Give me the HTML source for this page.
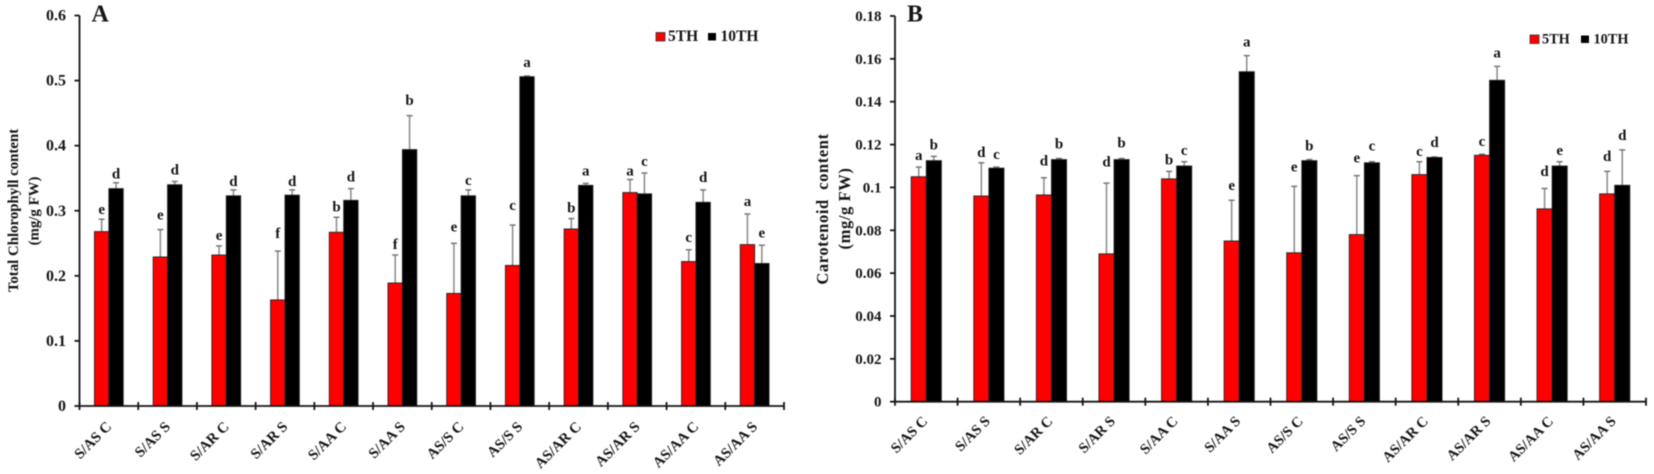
<!DOCTYPE html>
<html lang="en">
<head>
<meta charset="utf-8">
<title>Total chlorophyll and carotenoid content</title>
<style>
  html, body { margin: 0; padding: 0; background: #fff; }
  body { width: 1654px; height: 474px; overflow: hidden; }
  svg { display: block; filter: blur(0.5px); font-family: "Liberation Serif", serif; font-weight: bold; fill: #151515; }
  text { white-space: pre; }
</style>
</head>
<body>
<svg id="figure" xmlns="http://www.w3.org/2000/svg" width="1654" height="474" viewBox="0 0 1654 474"></svg>
<script>
const categories = ["S/AS C", "S/AS S", "S/AR C", "S/AR S", "S/AA C", "S/AA S", "AS/S C", "AS/S S", "AS/AR C", "AS/AR S", "AS/AA C", "AS/AA S"];

const chlorophyllTicks = [0, 0.1, 0.2, 0.3, 0.4, 0.5, 0.6];
const chlorophyllTickLabels = ["0", "0.1", "0.2", "0.3", "0.4", "0.5", "0.6"];
const chlorophyll5th = [0.268, 0.229, 0.232, 0.163, 0.267, 0.189, 0.173, 0.216, 0.272, 0.328, 0.222, 0.248];
const chlorophyll10th = [0.334, 0.340, 0.323, 0.324, 0.316, 0.394, 0.323, 0.506, 0.339, 0.326, 0.313, 0.219];
const chlorophyll5thErrorTop = [0.287, 0.271, 0.246, 0.238, 0.290, 0.232, 0.250, 0.278, 0.288, 0.348, 0.240, 0.295];
const chlorophyll10thErrorTop = [0.343, 0.345, 0.332, 0.332, 0.334, 0.446, 0.332, 0.507, 0.342, 0.358, 0.332, 0.247];
const chlorophyll5thLetters = ["e", "e", "e", "f", "b", "f", "e", "c", "b", "a", "c", "a"];
const chlorophyll10thLetters = ["d", "d", "d", "d", "d", "b", "c", "a", "a", "c", "d", "e"];
const chlorophyll5thLetterClearance = [-0.0015, 0.006, 0, 0.011, 0, 0, 0.009, 0.014, 0, -0.003, 0.003, 0.003];
const chlorophyll10thLetterClearance = [-0.003, 0.0015, -0.003, -0.003, 0.0015, 0.0075, -0.0015, 0.0045, 0.003, 0.0015, 0.003, 0.003];

const carotenoidTicks = [0, 0.02, 0.04, 0.06, 0.08, 0.1, 0.12, 0.14, 0.16, 0.18];
const carotenoidTickLabels = ["0", "0.02", "0.04", "0.06", "0.08", "0.1", "0.12", "0.14", "0.16", "0.18"];
const carotenoid5th = [0.105, 0.096, 0.0965, 0.069, 0.104, 0.075, 0.0695, 0.078, 0.106, 0.115, 0.090, 0.097];
const carotenoid10th = [0.1125, 0.109, 0.113, 0.113, 0.110, 0.154, 0.1125, 0.1115, 0.114, 0.150, 0.110, 0.101];
const carotenoid5thErrorTop = [0.1095, 0.1115, 0.1045, 0.102, 0.1075, 0.094, 0.1005, 0.1055, 0.112, 0.1155, 0.0995, 0.1075];
const carotenoid10thErrorTop = [0.1145, 0.1095, 0.1135, 0.1135, 0.112, 0.1615, 0.113, 0.112, 0.1142, 0.1565, 0.112, 0.1175];
const carotenoid5thLetters = ["a", "d", "d", "d", "b", "e", "e", "e", "c", "c", "d", "d"];
const carotenoid10thLetters = ["b", "c", "b", "b", "c", "a", "b", "c", "d", "a", "e", "d"];
const carotenoid5thLetterClearance = [-0.0005, -0.001, 0.002, 0.004, -0.0005, 0.001, 0.0033, 0.0023, -0.001, 0, 0.002, 0.001];
const carotenoid10thLetterClearance = [-0.0005, 0, 0.001, 0.0015, -0.0005, 0.0005, 0.0005, 0.0015, 0.001, 0.0005, -0.0005, 0.001];

const svg = document.getElementById('figure');
const NS = 'http://www.w3.org/2000/svg';

function make(parent, tag, attrs, text) {
  const el = document.createElementNS(NS, tag);
  for (const k in attrs) el.setAttribute(k, attrs[k]);
  if (text !== undefined) el.textContent = text;
  parent.appendChild(el);
  return el;
}

function drawChart(c) {
  const g = make(svg, 'g', {});
  
  

  const yScale = v => c.y0 - (v / c.yMax) * (c.y0 - c.yTop);
  const step = (c.xEnd - c.x0) / categories.length;
  const xScale = i => c.x0 + step * (i + 0.5);

  // bars and error bars
  categories.forEach((cat, i) => {
    const mid = xScale(i);
    [[c.red, c.redTop, c.redLetters, c.redClear, -c.barW, '#ff0000', '5th'],
     [c.black, c.blackTop, c.blackLetters, c.blackClear, 0, '#000000', '10th']].forEach(s => {
      const top = yScale(s[0][i]);
      const errTop = yScale(s[1][i]);
      const cx = mid + s[4] + c.barW / 2;

      const stem = make(g, 'line', { x1: cx, x2: cx, y1: top, y2: errTop, stroke: '#8a8a8a', 'stroke-width': 1.5 });
      
      
      const cap = make(g, 'line', { x1: cx - 3, x2: cx + 3, y1: errTop, y2: errTop, stroke: '#777', 'stroke-width': 1.5 });
      
      

      const bar = make(g, 'rect', { x: mid + s[4], y: top, width: c.barW, height: c.y0 - top, fill: s[5], stroke: '#222', 'stroke-width': 0.9 });
      
      

      const letterY = yScale(s[1][i] + s[3][i]) - c.letterGap + 4;
      const letter = make(g, 'text', { x: cx, y: letterY, 'text-anchor': 'middle', 'font-size': 15 }, s[2][i]);
      
      
    });

    const label = make(g, 'text', {
      x: 0, y: 0, 'text-anchor': 'end', 'font-size': c.xLabelSize,
      transform: 'translate(' + (mid + c.xLabelDx) + ' ' + (c.y0 + c.xLabelDy) + ') rotate(-45)'
    }, cat);
    
    
  });

  // axes
  const yAxis = make(g, 'line', { x1: c.x0, x2: c.x0, y1: c.yTop, y2: c.y0, stroke: '#151515', 'stroke-width': 1.8 });
  
  
  const xAxis = make(g, 'line', { x1: c.x0, x2: c.xEnd, y1: c.y0, y2: c.y0, stroke: '#151515', 'stroke-width': 1.8 });
  
  

  c.ticks.forEach((t, i) => {
    const y = yScale(t);
    const tick = make(g, 'line', { x1: c.x0 - 5, x2: c.x0, y1: y, y2: y, stroke: '#151515', 'stroke-width': 1.8 });
    
    
    const lab = make(g, 'text', { x: c.x0 - 13.5, y: y + 5, 'text-anchor': 'end', 'font-size': c.tickSize }, c.tickLabels[i]);
    
    
  });

  for (let i = 0; i <= categories.length; i++) {
    const x = c.x0 + step * i;
    const tick = make(g, 'line', { x1: x, x2: x, y1: c.y0 - 4, y2: c.y0 + 4, stroke: '#151515', 'stroke-width': 1.8 });
    
    
  }

  // axis titles
  const title1 = make(g, 'text', {
    'text-anchor': 'middle', 'font-size': c.titleSize, 'letter-spacing': c.titleSpacing,
    transform: 'translate(' + c.title1X + ' ' + c.title1Y + ') rotate(-90)'
  }, c.title1);
  
  
  const title2 = make(g, 'text', {
    'text-anchor': 'middle', 'font-size': c.titleSize, 'letter-spacing': c.titleSpacing,
    transform: 'translate(' + c.title2X + ' ' + c.title2Y + ') rotate(-90)'
  }, '(mg/g FW)');
  
  

  // panel letter
  const panel = make(g, 'text', { x: c.panelX, y: 21.5, 'font-size': 24 }, c.panel);
  
  

  // legend
  const legend = make(g, 'g', {});
  
  
  const swatchRed = make(legend, 'rect', { x: c.legendX, y: c.legendY, width: 9, height: 8.5, fill: '#ff0000', stroke: '#333', 'stroke-width': 0.8 });
  
  
  const text5 = make(legend, 'text', { x: c.legendX + 12, y: c.legendY + 8.7, 'font-size': c.legendSize }, '5TH');
  
  
  const swatchBlack = make(legend, 'rect', { x: c.legendX + c.legendGap, y: c.legendY + 0.5, width: 8, height: 7.5, fill: '#000' });
  
  
  const text10 = make(legend, 'text', { x: c.legendX + c.legendGap + 12.5, y: c.legendY + 8.7, 'font-size': c.legendSize }, '10TH');
  
  
}

drawChart({
  name: 'chart-a-total-chlorophyll', panel: 'A', panelX: 91.5,
  x0: 79.5, xEnd: 784, y0: 406, yTop: 15.5, yMax: 0.6, barW: 14.4, letterGap: 10,
  ticks: chlorophyllTicks, tickLabels: chlorophyllTickLabels, tickSize: 16,
  red: chlorophyll5th, black: chlorophyll10th,
  redTop: chlorophyll5thErrorTop, blackTop: chlorophyll10thErrorTop,
  redLetters: chlorophyll5thLetters, blackLetters: chlorophyll10thLetters,
  redClear: chlorophyll5thLetterClearance, blackClear: chlorophyll10thLetterClearance,
  xLabelSize: 14.8, xLabelDx: 3.5, xLabelDy: 21.5,
  title1: 'Total Chlorophyll content', title1X: 18, title1Y: 210.5,
  title2X: 38.5, title2Y: 211, titleSize: 14.85, titleSpacing: 0,
  legendX: 656, legendY: 32.5, legendGap: 52, legendSize: 15.5
});

drawChart({
  name: 'chart-b-carotenoid', panel: 'B', panelX: 907,
  x0: 895, xEnd: 1646, y0: 401.7, yTop: 16, yMax: 0.18, barW: 15.1, letterGap: 12,
  ticks: carotenoidTicks, tickLabels: carotenoidTickLabels, tickSize: 15,
  red: carotenoid5th, black: carotenoid10th,
  redTop: carotenoid5thErrorTop, blackTop: carotenoid10thErrorTop,
  redLetters: carotenoid5thLetters, blackLetters: carotenoid10thLetters,
  redClear: carotenoid5thLetterClearance, blackClear: carotenoid10thLetterClearance,
  xLabelSize: 14.6, xLabelDx: 2, xLabelDy: 20.3,
  title1: 'Carotenoid  content', title1X: 828, title1Y: 209,
  title2X: 850, title2Y: 208.5, titleSize: 16.5, titleSpacing: 0.6,
  legendX: 1530, legendY: 35, legendGap: 51, legendSize: 14.3
});
</script>
</body>
</html>
